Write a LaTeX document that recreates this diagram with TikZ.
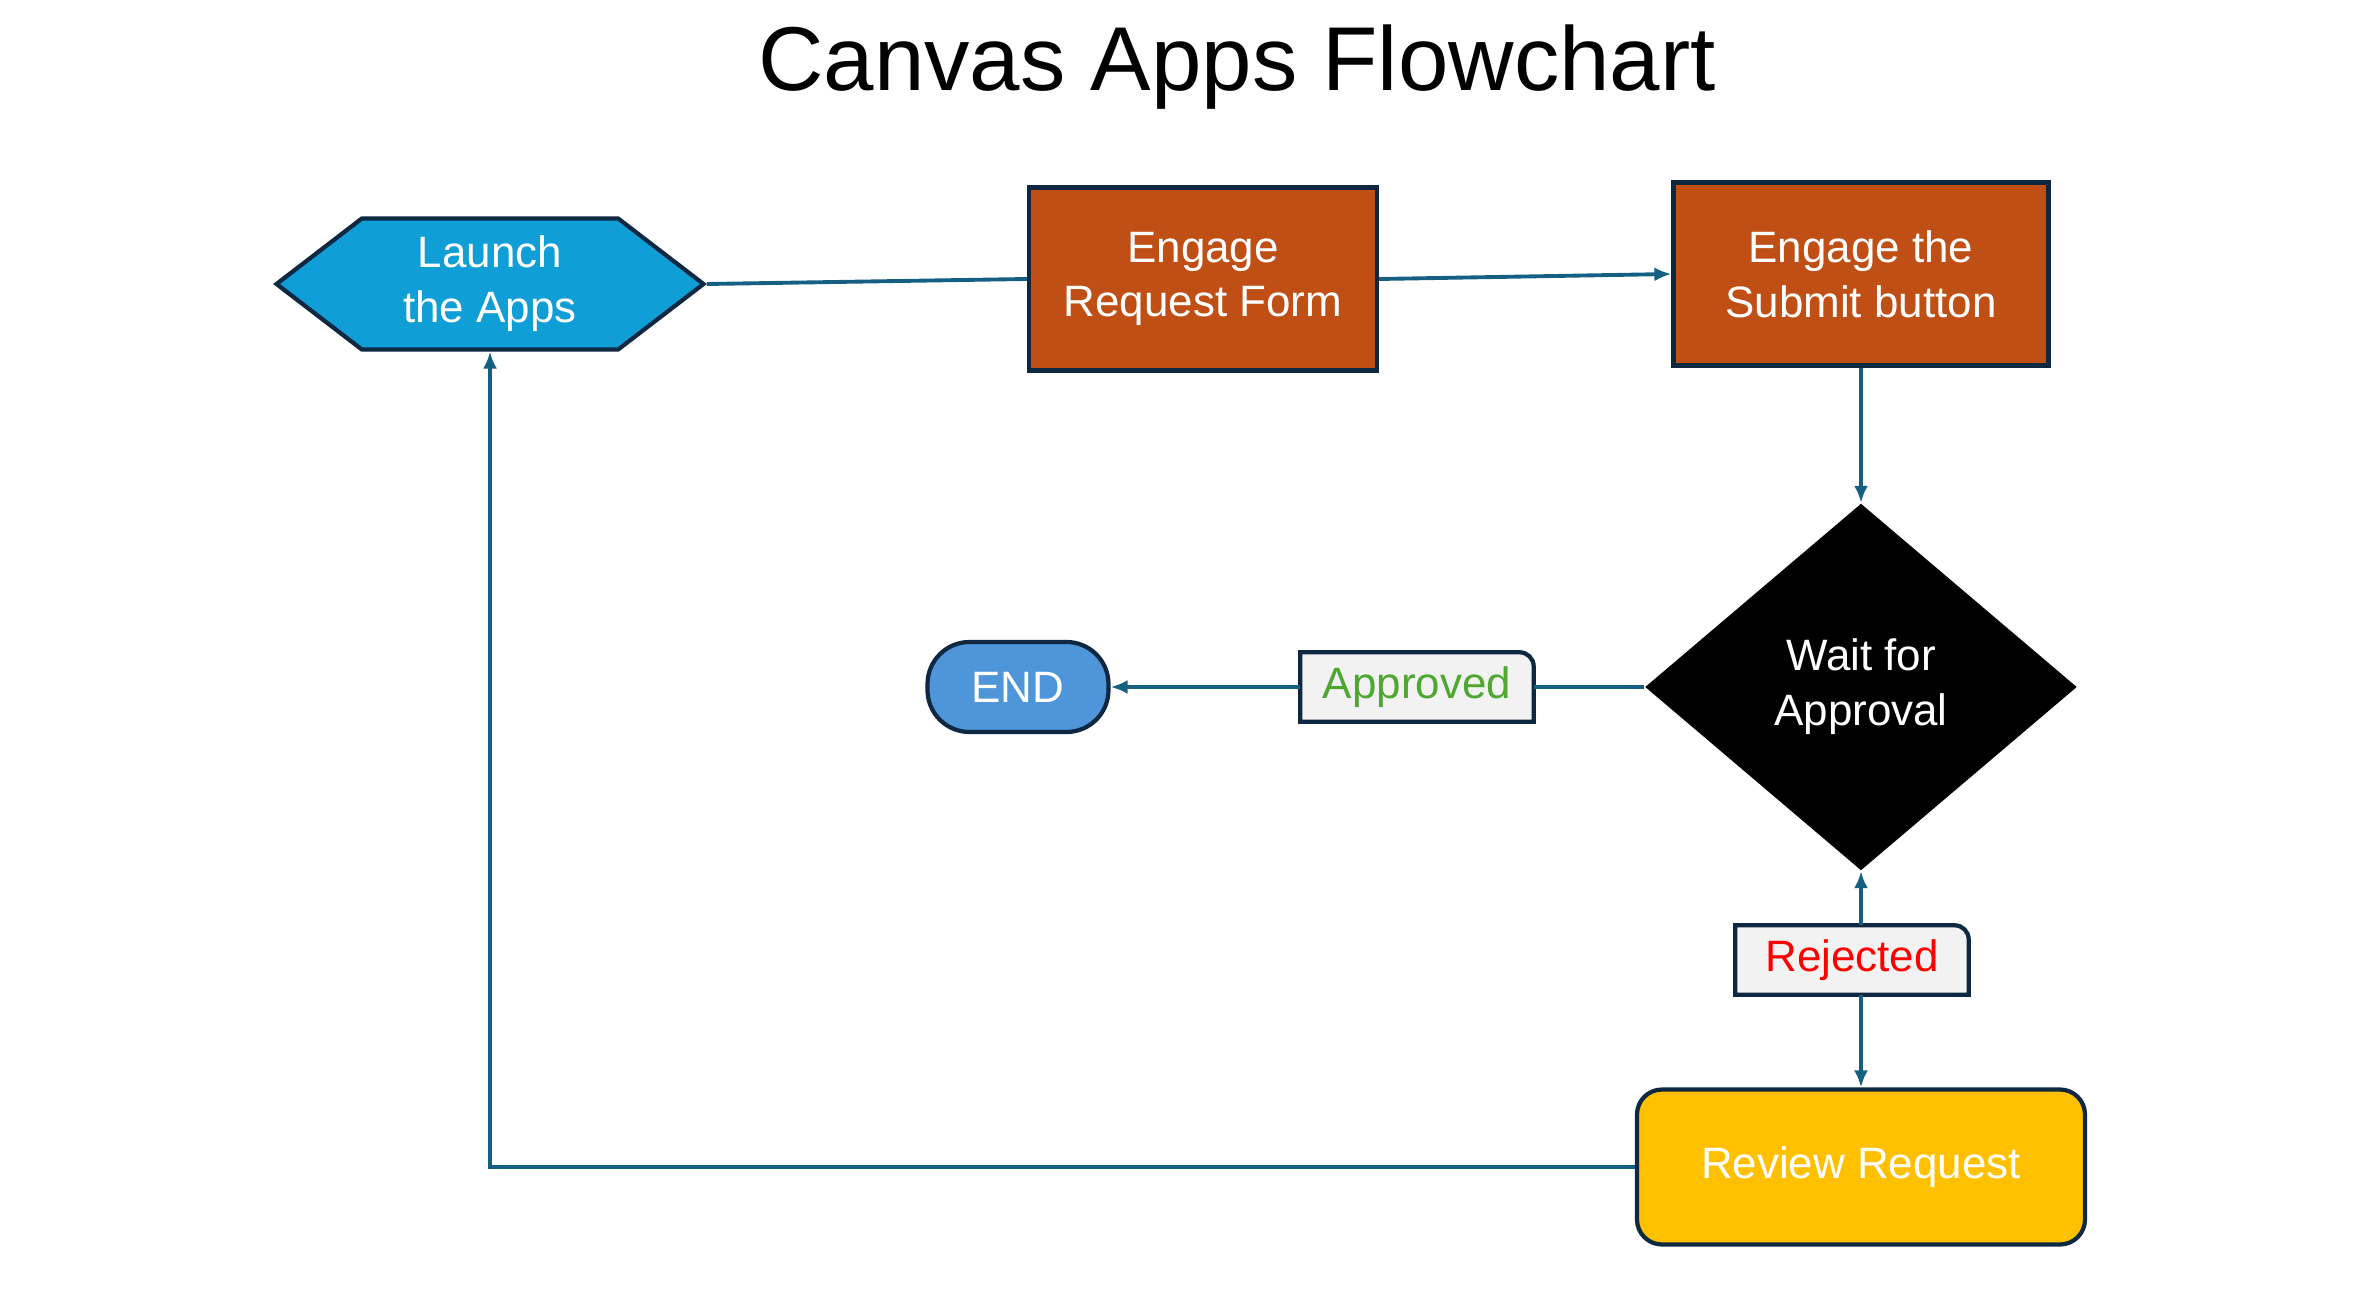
\documentclass[tikz,border=0pt]{standalone}
\usepackage{fontspec}
\setmainfont{Liberation Sans}
\usetikzlibrary{arrows.meta,shapes.geometric,shapes.symbols,positioning}
\definecolor{hexblue}{HTML}{0F9ED5}
\definecolor{boxorange}{HTML}{BF4F14}
\definecolor{edgeline}{HTML}{156082}
\definecolor{outline}{HTML}{0E2841}
\definecolor{endblue}{HTML}{4E95D9}
\definecolor{reviewyellow}{HTML}{FFC000}
\definecolor{labelgrey}{HTML}{F2F2F2}
\definecolor{okgreen}{HTML}{4EA72E}
\definecolor{nored}{HTML}{FF0000}
\tikzset{
  basic/.style    = {draw=outline, line width=1.2pt, text=white, align=center,
                     font=\fontsize{12.5}{15.6}\selectfont, inner sep=0pt},
  launch/.style   = {basic, signal, signal to=west and east, signal pointer angle=75,
                     fill=hexblue, minimum width=4.27cm, minimum height=1.31cm},
  task/.style     = {basic, rectangle, fill=boxorange, minimum width=3.48cm,
                     minimum height=1.83cm},
  decision/.style = {diamond, fill=black, text=white, align=center, inner sep=0pt,
                     font=\fontsize{12.5}{15.6}\selectfont,
                     minimum width=4.32cm, minimum height=3.67cm},
  stop/.style     = {basic, rectangle, rounded corners=0.42cm, fill=endblue,
                     minimum width=1.81cm, minimum height=0.9cm},
  review/.style   = {basic, rectangle, rounded corners=0.25cm, fill=reviewyellow,
                     minimum width=4.48cm, minimum height=1.55cm},
  answer/.style   = {rectangle, align=center, inner sep=0pt, minimum width=2.32cm,
                     minimum height=0.68cm, font=\fontsize{12.5}{15.6}\selectfont},
  answerframe/.style = {draw=outline, line width=1.2pt, fill=labelgrey},
  link/.style     = {draw=edgeline, line width=1.1pt}
}

\begin{document}
\begin{tikzpicture}[>={Latex[length=1.7mm,width=1.4mm]}]
\useasboundingbox (0,0) rectangle (23.6,-13.05);

% titulo
\node[anchor=base, font=\fontsize{25.8}{30}\selectfont] (title) at (12.37,-0.91) {Canvas Apps Flowchart};

% fila superior
\node[launch] (c1) at (4.90,-2.84) {Launch\\the Apps};
\node[task, right of = c1, node distance=7.13cm, yshift=0.05cm] (c2) {Engage\\Request Form};
\node[task, right of = c2, node distance=6.58cm, yshift=0.05cm, minimum width=3.75cm] (c3) {Engage the\\Submit button};

% decision y salidas
\node[decision, below of = c3, node distance=4.13cm] (c4) {Wait for\\Approval};
\node[answer, left of = c4, node distance=4.44cm] (l1) {};
\node[stop, left of = l1, node distance=3.99cm] (c5) {END};
\node[answer, below of = c4, node distance=2.73cm, xshift=-0.09cm] (l2) {};
\node[review, below of = c4, node distance=4.80cm] (c6) {Review Request};

% marcos de las etiquetas (esquina superior derecha redondeada)
\foreach \value in {1,2}
  \draw[answerframe] (l\value.south west) -- (l\value.north west)
    [rounded corners=4pt] -- (l\value.north east) [sharp corners] -- (l\value.south east) -- cycle;
\node[text=okgreen, font=\fontsize{12.5}{15.6}\selectfont] at (l1) {Approved};
\node[text=nored, font=\fontsize{12.5}{15.6}\selectfont] at (l2) {Rejected};

\draw[link] (c1.east) -- (c2.west);
\draw[link,->] (c2.east) -- (c3.west);
\draw[link,->] (c3.south) -- (c4.north);
\draw[link] (c4.west) -- (l1.east);
\draw[link,->] (l1.west) -- (c5.east);
\draw[link,->] (l2.north -| c4.south) -- (c4.south);
\draw[link,->] (l2.south -| c4.south) -- (c6.north);
\draw[link,->] (c6.west) -| (c1.south);

\end{tikzpicture}
\end{document}
